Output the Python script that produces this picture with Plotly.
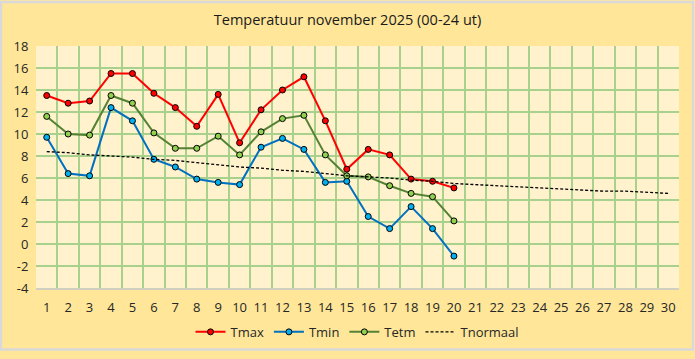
import plotly.graph_objects as go

days = list(range(1, 31))
days_obs = list(range(1, 21))
tmax = [13.5, 12.8, 13.0, 15.5, 15.5, 13.7, 12.4, 10.7, 13.6, 9.2,
        12.2, 14.0, 15.2, 11.2, 6.8, 8.6, 8.1, 5.9, 5.7, 5.1]
tmin = [9.7, 6.4, 6.2, 12.4, 11.2, 7.7, 7.0, 5.9, 5.6, 5.4,
        8.8, 9.6, 8.6, 5.6, 5.7, 2.5, 1.4, 3.4, 1.4, -1.1]
tetm = [11.6, 10.0, 9.9, 13.5, 12.8, 10.1, 8.7, 8.7, 9.8, 8.1,
        10.2, 11.4, 11.7, 8.1, 6.2, 6.1, 5.3, 4.6, 4.3, 2.1]
tnormaal = [8.4, 8.3, 8.1, 8.0, 7.9, 7.7, 7.6, 7.4, 7.2, 7.0,
            6.9, 6.7, 6.6, 6.4, 6.2, 6.1, 6.0, 5.8, 5.7, 5.5,
            5.4, 5.3, 5.2, 5.1, 5.0, 4.9, 4.8, 4.8, 4.7, 4.6]
y_ticks = list(range(-4, 19, 2))
title_text = "Temperatuur november 2025 (00-24 ut)"

W, H = 695, 359
ml, mr, mt, mb = 36, 16, 46, 65
pw, ph = W - ml - mr, H - mt - mb

fig = go.Figure()

def add_series(name, y, line_color, fill):
    fig.add_trace(go.Scatter(
        x=days_obs, y=y, name=name, mode="lines+markers",
        line=dict(color=line_color, width=2),
        marker=dict(size=6, color=fill, line=dict(color="black", width=1)),
    ))

add_series("Tmax", tmax, "#FF0000", "#FF0000")
add_series("Tmin", tmin, "#0070C0", "#00B0F0")
add_series("Tetm", tetm, "#548235", "#92D050")
fig.add_trace(go.Scatter(
    x=days, y=tnormaal, name="Tnormaal", mode="lines",
    line=dict(color="black", width=1.3, dash="3px,2px"),
))

fig.update_layout(
    width=W, height=H,
    margin=dict(l=ml, r=mr, t=mt, b=mb),
    paper_bgcolor="#FFE699",
    plot_bgcolor="#FFF2CC",
    font=dict(family="Open Sans, Liberation Sans, sans-serif", color="#262626", size=13),
    title=dict(text=title_text, x=0.5, xanchor="center", y=1 - 20 / H, yanchor="middle",
               font=dict(size=14.5, color="#1a1a1a")),
    legend=dict(orientation="h", x=0.5, xanchor="center", y=-(339 - 294) / ph, yanchor="middle",
                bgcolor="rgba(0,0,0,0)", font=dict(size=13)),
    showlegend=True,
)

fig.update_xaxes(
    range=[0.5, 30.5], tickmode="array", tickvals=days, ticktext=[str(d) for d in days],
    showgrid=False, zeroline=False, ticks="outside", ticklen=7, tickcolor="rgba(0,0,0,0)",
    showline=True, linecolor="#D0D0C0", linewidth=1.5,
    minor=dict(tick0=0.5, dtick=1, showgrid=True, gridcolor="#A9D18E", gridwidth=2, ticks=""),
    fixedrange=True, automargin=False,
)
fig.update_yaxes(
    range=[-4, 18], tickmode="array", tickvals=y_ticks, ticktext=[str(v) for v in y_ticks],
    showgrid=True, gridcolor="#A9D18E", gridwidth=2, zeroline=False,
    ticks="outside", ticklen=4, tickcolor="rgba(0,0,0,0)",
    fixedrange=True, automargin=False,
)

# outer gray frame
fig.add_shape(type="rect", xref="paper", yref="paper",
              x0=(1 - ml) / pw, x1=(W - 2 - ml) / pw,
              y0=-(mb - 2) / ph, y1=1 + (mt - 1) / ph,
              line=dict(color="#D9D9D9", width=2.5), layer="below")

fig.write_html("out.html", config={"displayModeBar": False},
               post_script="document.body.style.margin='0';")
